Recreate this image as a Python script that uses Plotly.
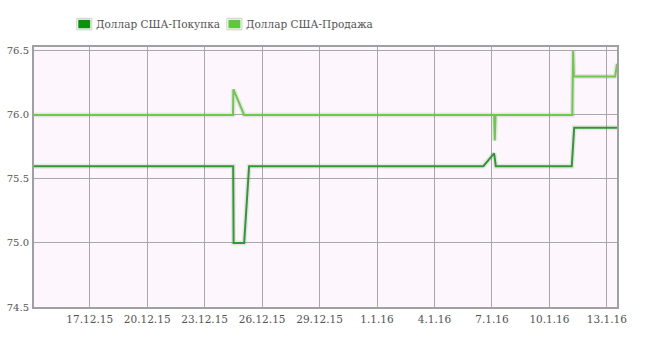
import plotly.graph_objects as go

# ---- data ----
buy_times = ["2015-12-14 00:00", "2015-12-24 11:45", "2015-12-24 12:15", "2015-12-25 01:30",
             "2015-12-25 07:40", "2016-01-06 13:10", "2016-01-07 02:40", "2016-01-07 04:50",
             "2016-01-11 04:00", "2016-01-11 07:00", "2016-01-13 14:00"]
buy_values = [75.6, 75.6, 75.0, 75.0, 75.6, 75.6, 75.7, 75.6, 75.6, 75.9, 75.9]

sell_times = ["2015-12-14 00:00", "2015-12-24 11:30", "2015-12-24 12:00", "2015-12-25 01:30",
              "2016-01-07 02:40", "2016-01-07 03:30", "2016-01-07 04:30", "2016-01-11 04:40",
              "2016-01-11 05:40", "2016-01-11 06:40", "2016-01-13 10:20", "2016-01-13 12:40"]
sell_values = [76.0, 76.0, 76.2, 76.0, 76.0, 75.8, 76.0, 76.0, 76.5, 76.3, 76.3, 76.4]

series_names = ["Доллар США-Покупка", "Доллар США-Продажа"]
x_tick_dates = ["2015-12-17", "2015-12-20", "2015-12-23", "2015-12-26", "2015-12-29",
                "2016-01-01", "2016-01-04", "2016-01-07", "2016-01-10", "2016-01-13"]
x_tick_labels = ["17.12.15", "20.12.15", "23.12.15", "26.12.15", "29.12.15",
                 "1.1.16", "4.1.16", "7.1.16", "10.1.16", "13.1.16"]
y_tick_vals = [74.5, 75.0, 75.5, 76.0, 76.5]

buy_color = "#2f9a2f"
sell_color = "#6cc94a"
buy_legend = "#0a920a"
sell_legend = "#5cc83a"
text_color = "#545454"
font_family = "DejaVu Serif"

fig = go.Figure()
for t, v, c in [(buy_times, buy_values, buy_color), (sell_times, sell_values, sell_color)]:
    fig.add_trace(go.Scatter(x=t, y=v, mode="lines", showlegend=False, hoverinfo="skip",
                             line=dict(color="rgba(0,0,0,0.08)", width=5)))
    fig.add_trace(go.Scatter(x=t, y=v, mode="lines", showlegend=False,
                             line=dict(color=c, width=2)))

W, H = 670, 349
L, R, T, B = 34.3, 616.7, 46.7, 306.7

def px(x):
    return (x - L) / (R - L)

def py(y):
    return (B - y) / (B - T)

shapes = []
annotations = []
legend_items = [(77, buy_legend, series_names[0]), (227, sell_legend, series_names[1])]
for x0, col, name in legend_items:
    shapes.append(dict(type="rect", xref="paper", yref="paper",
                       x0=px(x0), x1=px(x0 + 15), y0=py(29.5), y1=py(18),
                       line=dict(color="#cccccc", width=1), fillcolor="white", layer="above"))
    shapes.append(dict(type="rect", xref="paper", yref="paper",
                       x0=px(x0 + 1.5), x1=px(x0 + 13.5), y0=py(28), y1=py(19.5),
                       line=dict(width=0), fillcolor=col, layer="above"))
    annotations.append(dict(xref="paper", yref="paper", x=px(x0 + 17), y=py(23.5),
                            text=name, showarrow=False, xanchor="left", yanchor="middle",
                            font=dict(family=font_family, size=10.5, color=text_color)))

fig.update_layout(
    width=W, height=H,
    margin=dict(l=L, r=W - R, t=T, b=H - B, pad=0, autoexpand=False),
    paper_bgcolor="white",
    plot_bgcolor="#fdf7fd",
    shapes=shapes,
    annotations=annotations,
    xaxis=dict(type="date", range=["2015-12-14 02:10", "2016-01-13 12:40"],
               tickvals=x_tick_dates, ticktext=x_tick_labels, automargin=False,
               showgrid=True, gridcolor="#a8a8a8", gridwidth=1,
               showline=True, linecolor="#a0a0a0", linewidth=2, mirror=True,
               ticks="", zeroline=False, ticklabelstandoff=1,
               tickfont=dict(family=font_family, size=10.5, color=text_color)),
    yaxis=dict(range=[74.5, 76.531], tickvals=y_tick_vals, automargin=False,
               ticktext=[f"{v:.1f}" for v in y_tick_vals],
               showgrid=True, gridcolor="#a8a8a8", gridwidth=1,
               showline=True, linecolor="#a0a0a0", linewidth=2, mirror=True,
               ticks="", zeroline=False, ticklabelstandoff=1,
               tickfont=dict(family=font_family, size=10, color=text_color)),
)

fig.write_html("out.html")
